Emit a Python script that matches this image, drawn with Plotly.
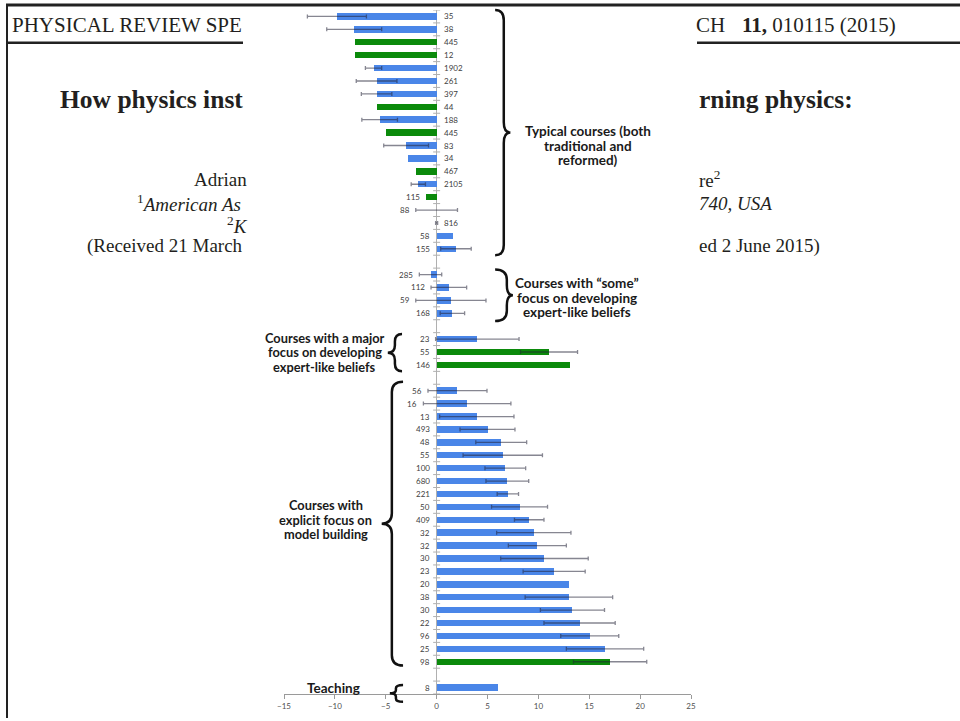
import plotly.graph_objects as go

# ---------------- data ----------------
group_titles = [
    ["Typical courses (both", "traditional and", "reformed)"],
    ["Courses with “some”", "focus on developing", "expert-like beliefs"],
    ["Courses with a major", "focus on developing", "expert-like beliefs"],
    ["Courses with", "explicit focus on", "model building"],
    ["Teaching"],
]
group_sizes = [19, 4, 3, 22, 1]

sample_n = [
    "35", "38", "445", "12", "1902", "261", "397", "44", "188", "445",
    "83", "34", "467", "2105", "115", "88", "816", "58", "155",
    "285", "112", "59", "168",
    "23", "55", "146",
    "56", "16", "13", "493", "48", "55", "100", "680", "221", "50",
    "409", "32", "32", "30", "23", "20", "38", "30", "22", "96", "25", "98",
    "8",
]
mean_shift = [
    -9.8, -8.1, -8.0, -8.0, -6.2, -5.9, -5.9, -5.9, -5.6, -5.0,
    -3.0, -2.8, -2.0, -1.8, -1.0, 0.0, 0.0, 1.6, 1.9,
    -0.6, 1.2, 1.4, 1.55,
    4.0, 11.05, 13.1,
    2.05, 3.0, 3.95, 5.0, 6.35, 6.5, 6.75, 6.95, 7.0, 8.15,
    9.1, 9.55, 9.9, 10.6, 11.55, 13.0, 13.0, 13.35, 14.05, 15.05, 16.55, 17.05,
    6.0,
]
error_95 = [
    2.9, 2.7, None, None, 0.8, 2.0, 1.5, None, 1.75, None,
    2.2, None, None, 0.7, None, 2.05, 0.1, None, 1.5,
    1.1, 1.75, 3.45, 1.2,
    4.1, 2.8, None,
    2.9, 4.3, 3.65, 2.7, 2.5, 3.9, 2.0, 2.1, 1.05, 2.75,
    1.45, 3.65, 2.85, 4.3, 3.05, None, 4.3, 3.15, 3.5, 2.85, 3.8, 3.6,
    None,
]
survey = [
    "A", "A", "B", "B", "A", "A", "A", "B", "A", "B",
    "A", "A", "B", "A", "B", "A", "A", "A", "A",
    "A", "A", "A", "A",
    "A", "B", "B",
    "A", "A", "A", "A", "A", "A", "A", "A", "A", "A",
    "A", "A", "A", "A", "A", "A", "A", "A", "A", "A", "A", "B",
    "A",
]

# ---------------- styles ----------------
survey_color = {"A": "#4a86e8", "B": "#0b8a0b"}
labels_right_of_axis = set(range(14)) | {16}
# per group: (x_end, x_spine, x_tip, text_x, text_dslot, y_pad_top, y_pad_bot, font_size)
brace_style = [
    (5.75, 6.6, 7.25, 14.9, 1.0, 0.5, 0.5, 13.5),
    (5.75, 6.9, 7.5, 13.8, 0.3, 0.4, 0.6, 13.5),
    (-3.4, -4.1, -4.8, -11.0, 0.0, 0.4, 0.5, 12.8),
    (-3.3, -4.4, -5.4, -10.9, -0.5, 0.7, 0.3, 12.8),
    (-3.3, -4.0, -4.6, -10.1, 0.0, 0.2, 1.1, 13.5),
]
LINE_PX = 14.5

XMIN, XMAX = -15, 25
ML, MR, MT, MB = 284, 269, 10, 24
W, H = 960, 721
PW, PH = W - ML - MR, H - MT - MB

# slot positions derived from group structure (one empty slot between groups)
slots, group_ranges = [], []
s = 0
for gi, size in enumerate(group_sizes):
    if gi > 0:
        s += 1
    start = s
    for _ in range(size):
        slots.append(s)
        s += 1
    group_ranges.append((start, s - 1))
YTOP, YBOT = -0.5, s - 0.5


def X(v):
    return (v - XMIN) / (XMAX - XMIN)


def Y(slot):
    return (YBOT - slot) / (YBOT - YTOP)


def PX(px):
    return (px - ML) / PW


def PY(py):
    return (MT + PH - py) / PH


fig = go.Figure()

fig.add_trace(go.Bar(
    x=mean_shift, y=slots, orientation="h",
    marker=dict(color=[survey_color[k] for k in survey], line=dict(width=0)),
    width=0.5, hoverinfo="skip", showlegend=False,
))

ex = [m for m, e in zip(mean_shift, error_95) if e is not None]
ey = [sl for sl, e in zip(slots, error_95) if e is not None]
ee = [e for e in error_95 if e is not None]
fig.add_trace(go.Scatter(
    x=ex, y=ey, mode="markers", marker=dict(size=1, opacity=0),
    error_x=dict(type="data", array=ee, symmetric=True,
                 color="rgba(35,35,55,0.55)", thickness=1.3, width=2),
    hoverinfo="skip", showlegend=False,
))

# tick marks along category axis
tick_slots = [t - 0.5 for t in range(int(YBOT - YTOP) + 1)]
fig.add_trace(go.Scatter(
    x=[0] * len(tick_slots), y=tick_slots, mode="markers",
    marker=dict(symbol="line-ew", size=5, line=dict(width=1, color="#b0b0b0")),
    hoverinfo="skip", showlegend=False,
))

annotations = []
# sample-size labels
for i, (lab, m, e, sl) in enumerate(zip(sample_n, mean_shift, error_95, slots)):
    if i in labels_right_of_axis:
        annotations.append(dict(x=0, y=sl, xref="x", yref="y", text=lab, showarrow=False,
                                xanchor="left", yanchor="middle", xshift=5,
                                font=dict(family="Lato", size=8, color="#404040")))
    else:
        left = min(0.0, m, m - (e or 0.0))
        annotations.append(dict(x=left, y=sl, xref="x", yref="y", text=lab, showarrow=False,
                                xanchor="right", yanchor="middle",
                                xshift=-5 if left == 0 else -4,
                                font=dict(family="Lato", size=8, color="#404040")))

shapes = []
for (g0, g1), lines, st in zip(group_ranges, group_titles, brace_style):
    xe, xs, xt, tx, tdy, pt, pb, fs = st
    y0, y1 = g0 - pt, g1 + pb
    ym = (y0 + y1) / 2
    r = min(0.8, (y1 - y0) / 5)
    path = (f"M {X(xe)},{Y(y0)} Q {X(xs)},{Y(y0)} {X(xs)},{Y(y0 + r)} "
            f"L {X(xs)},{Y(ym - r)} Q {X(xs)},{Y(ym)} {X(xt)},{Y(ym)} "
            f"Q {X(xs)},{Y(ym)} {X(xs)},{Y(ym + r)} "
            f"L {X(xs)},{Y(y1 - r)} Q {X(xs)},{Y(y1)} {X(xe)},{Y(y1)}")
    shapes.append(dict(type="path", path=path, xref="paper", yref="paper",
                       line=dict(color="#111111", width=2.5)))
    yc = Y((g0 + g1) / 2 + tdy)
    n = len(lines)
    for k, line in enumerate(lines):
        off = (k - (n - 1) / 2) * LINE_PX
        annotations.append(dict(x=X(tx), y=yc, xref="paper", yref="paper",
                                text=f"<b>{line}</b>", showarrow=False,
                                xanchor="center", yanchor="middle", yshift=-off,
                                font=dict(family="Lato", size=fs, color="#1a1a1a")))

# ---------------- page background (journal page fragments) ----------------
serif = "Liberation Serif"
page_text = [
    (10, 25, "PHYSICAL REVIEW SPE", 21),
    (694, 25, "CH", 21),
    (740, 25, "<b>11,</b> 010115 (2015)", 21),
    (58, 100, "<b>How physics inst</b>", 25.5),
    (697, 100, "<b>rning physics:</b>", 25.5),
    (192, 180, "Adrian", 19),
    (697, 180, "re<sup>2</sup>", 19),
    (135, 204, "<sup>1</sup><i>American As</i>", 19),
    (697, 204, "<i>740, USA</i>", 19),
    (225, 226, "<sup>2</sup><i>K</i>", 19),
    (85, 247, "(Received 21 March", 19),
    (697, 247, "ed 2 June 2015)", 19),
]
for px, py, txt, size in page_text:
    annotations.append(dict(x=PX(px), y=PY(py), xref="paper", yref="paper", text=txt,
                            showarrow=False, xanchor="left", yanchor="middle",
                            font=dict(family=serif, size=size, color="#231f20")))

page_lines = [
    (6, 5, 960, 5, 3),
    (7, 4, 7, 721, 2),
    (6, 43, 243, 43, 2.5),
    (697, 43, 960, 43, 2.5),
]
for x0, y0, x1, y1, w in page_lines:
    shapes.append(dict(type="line", xref="paper", yref="paper",
                       x0=PX(x0), y0=PY(y0), x1=PX(x1), y1=PY(y1),
                       line=dict(color="#222222", width=w)))

fig.update_layout(
    width=W, height=H,
    margin=dict(l=ML, r=MR, t=MT, b=MB, pad=0),
    paper_bgcolor="white", plot_bgcolor="white",
    bargap=0,
    xaxis=dict(range=[XMIN, XMAX], dtick=5, tick0=0, showgrid=False,
               zeroline=True, zerolinecolor="#b0b0b0", zerolinewidth=1,
               showline=True, linecolor="#9a9a9a", linewidth=1,
               ticks="outside", ticklen=4, tickcolor="#9a9a9a",
               tickfont=dict(family="Lato", size=8, color="#505050")),
    yaxis=dict(range=[YBOT, YTOP], showgrid=False, zeroline=False,
               showticklabels=False, showline=False, ticks=""),
    shapes=shapes, annotations=annotations,
)

fig.write_html(
    "out.html",
    config={"displayModeBar": False},
    post_script="document.body.style.margin='0';document.body.style.overflow='hidden';",
)
